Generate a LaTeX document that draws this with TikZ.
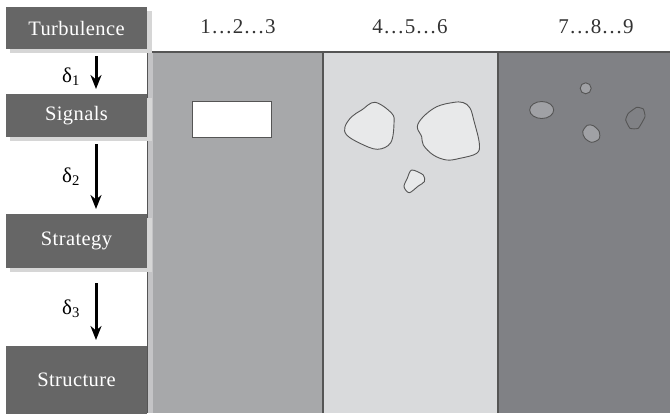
\documentclass[tikz,border=0pt]{standalone}
\usepackage{fontspec}
\setmainfont{Liberation Serif}
\newfontfamily\boxfont[LetterSpace=2]{Liberation Serif}
\definecolor{boxgray}{HTML}{666666}
\definecolor{shadowgray}{HTML}{D6D6D6}
\definecolor{panelA}{HTML}{A7A8AA}
\definecolor{panelB}{HTML}{D9DADC}
\definecolor{panelC}{HTML}{808185}
\definecolor{lineg}{HTML}{555555}
\definecolor{blobB}{HTML}{E8E9EA}
\definecolor{blobC}{HTML}{A0A1A5}
\definecolor{strip}{HTML}{C4C4C6}
\tikzset{
  lbox/.style={fill=boxgray, text=white, font=\boxfont\fontsize{20.5}{22}\selectfont, inner sep=0pt},
  hdr/.style={text=black!80, font=\boxfont\fontsize{21}{23}\selectfont},
  dlab/.style={font=\fontsize{21}{23}\selectfont},
  flowarrow/.style={line width=3pt, -{Stealth[length=14pt,width=11pt]}},
  blobline/.style={draw=lineg, line width=0.9pt},
}
\usetikzlibrary{arrows.meta}
\begin{document}
\begin{tikzpicture}[x=1pt,y=-1pt]
\useasboundingbox (0,0) rectangle (670,413);
% panels
\fill[panelA] (147,52) rectangle (323,413);
\fill[panelB] (323,52) rectangle (498,413);
\fill[panelC] (498,52) rectangle (670,413);
\fill[strip] (148,52) rectangle (153,413);
\draw[lineg, line width=1.6pt] (147,52) -- (670,52);
\draw[lineg, line width=1.6pt] (323,52) -- (323,413);
\draw[lineg, line width=1.6pt] (498,52) -- (498,413);
\draw[lineg, line width=1pt] (147.5,52) -- (147.5,413);
% shadows
\fill[shadowgray] (10,11) rectangle (152,53);
\fill[shadowgray] (10,98) rectangle (152,141);
\fill[shadowgray] (10,218) rectangle (152,272);
% left boxes
\node[lbox, minimum width=141pt, minimum height=42pt] (turb) at (76.5,28) {Turbulence};
\node[lbox, minimum width=141pt, minimum height=43pt] (sig) at (76.5,115.5) {Signals};
\node[lbox, minimum width=141pt, minimum height=54pt] (strat) at (76.5,241) {Strategy};
\node[lbox, minimum width=141pt, minimum height=68pt] (struc) at (76.5,380) {Structure};
% arrows
\coordinate (a1s) at (96,56); \coordinate (a1e) at (96,89);
\coordinate (a2s) at (96,144); \coordinate (a2e) at (96,209);
\coordinate (a3s) at (96,283); \coordinate (a3e) at (96,340);
\draw[flowarrow] (a1s) -- (a1e);
\draw[flowarrow] (a2s) -- (a2e);
\draw[flowarrow] (a3s) -- (a3e);
\node[dlab] (d1) at (71,77) {δ\textsubscript{1}};
\node[dlab] (d2) at (71,177) {δ\textsubscript{2}};
\node[dlab] (d3) at (71,309) {δ\textsubscript{3}};
% headers
\node[hdr] (h1) at (238,27) {1…2…3};
\node[hdr] (h2) at (410,27) {4…5…6};
\node[hdr] (h3) at (596,27) {7…8…9};
% panel 1 rectangle
\draw[fill=white, draw=lineg, line width=0.9pt] (192,101) rectangle (271,137);
% panel 2 blobs
\draw[blobline, fill=blobB] plot[smooth cycle, tension=0.6] coordinates {(375,102.3) (391.7,113.3) (394,123.3) (390.7,142.7) (377.3,149.3) (360,143.3) (346.7,135) (345,126.7) (351.7,116.7) (361.7,110)};
\draw[blobline, fill=blobB] plot[smooth cycle, tension=0.6] coordinates {(453,102.5) (463,102.5) (470,108) (474,121) (479.3,143.3) (476.7,153.3) (460,158.3) (446.7,160) (433.3,155) (423.3,145) (421.7,136.7) (417.3,126.7) (423.3,116.7) (436.7,106.7)};
\draw[blobline, fill=blobB] plot[smooth cycle, tension=0.5] coordinates {(411.7,170) (423.3,175) (424.3,181.7) (418.3,186) (409.3,192.7) (404,186.7) (407.3,178.3)};
% panel 3 blobs
\draw[blobline, fill=blobC] (541.7,110) ellipse [x radius=12, y radius=8.5];
\draw[blobline, fill=blobC] (585.7,88.3) circle [radius=5.5];
\draw[blobline, fill=blobC] plot[smooth cycle, tension=0.5] coordinates {(587.3,125.3) (593.3,125.7) (599.3,131.7) (599,139) (591.7,142.3) (585,138.3) (582.7,131.7)};
\draw[blobline] plot[smooth cycle, tension=0.25] coordinates {(636.7,107.3) (643.3,109) (645,116.7) (638.3,128.3) (630,128.3) (625.7,120) (628.3,113.3)};
\end{tikzpicture}
\end{document}
